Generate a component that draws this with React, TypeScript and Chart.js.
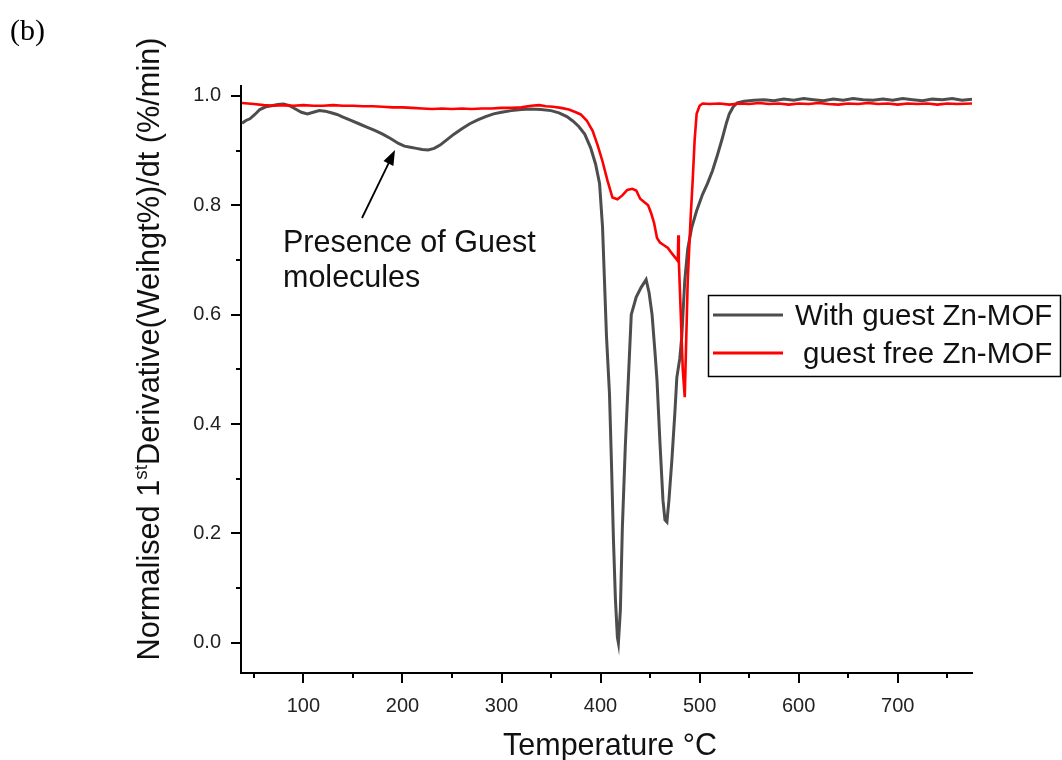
import React, { useEffect, useRef } from "react";
import { Chart, registerables } from "chart.js";

Chart.register(...registerables);

// ---- Data ----
const guestTemp = [
  38, 42, 46, 51, 56, 62, 68, 74, 80, 86, 92, 98, 104, 110, 116, 122, 128, 134, 140, 148,
  156, 164, 172, 180, 188, 196, 202, 208, 214, 220, 226, 232, 238, 245, 252, 260, 268, 276,
  284, 292, 300, 310, 320, 330, 340, 350, 358, 366, 372, 378, 384, 390, 395, 399, 402, 404,
  406, 409, 411, 413, 415, 417, 418, 420, 422, 425, 428, 431, 436, 441, 446, 449, 452, 455,
  457, 460, 463, 465, 467, 469, 472, 475, 477, 480, 482, 485, 488, 492, 497, 503, 508, 513,
  518, 523, 527, 530, 534, 538, 545, 555, 565, 575, 585, 595, 605, 615, 625, 635, 645, 655,
  665, 675, 685, 695, 705, 715, 725, 735, 745, 755, 765, 775,
];
const guestValue = [
  0.95, 0.955, 0.958, 0.966, 0.975, 0.98, 0.982, 0.984, 0.985, 0.982, 0.976, 0.97, 0.967,
  0.97, 0.973, 0.972, 0.969, 0.966, 0.961, 0.955, 0.949, 0.943, 0.937, 0.93, 0.922, 0.913,
  0.908, 0.906, 0.904, 0.902, 0.901, 0.904, 0.91, 0.92, 0.93, 0.94, 0.949, 0.956, 0.962,
  0.967, 0.97, 0.973, 0.975, 0.976, 0.975, 0.973, 0.969, 0.962, 0.954, 0.944, 0.93, 0.905,
  0.875, 0.84, 0.76, 0.66, 0.56, 0.456, 0.33, 0.19, 0.08, 0.01, 0.0, 0.06, 0.21, 0.36, 0.48,
  0.6, 0.632, 0.65, 0.664, 0.64, 0.6, 0.53, 0.48, 0.365, 0.261, 0.225, 0.221, 0.26, 0.334,
  0.42, 0.485, 0.52, 0.56, 0.662, 0.72, 0.759, 0.79, 0.82, 0.84, 0.863, 0.892, 0.923, 0.95,
  0.967, 0.98, 0.987, 0.99, 0.992, 0.993, 0.991, 0.994, 0.992, 0.995, 0.993, 0.991, 0.994,
  0.992, 0.995, 0.993, 0.992, 0.994, 0.992, 0.995, 0.993, 0.991, 0.994, 0.993, 0.995, 0.992,
  0.994,
];

const freeTemp = [
  38, 50, 60, 70, 80, 90, 100, 110, 120, 130, 140, 150, 160, 170, 180, 190, 200, 210, 220,
  230, 240, 250, 260, 270, 280, 290, 300, 310, 320, 330, 338, 345, 352, 360, 368, 375, 380,
  386, 392, 397, 402, 407, 412, 417, 422, 427, 432, 436, 440, 444, 448, 451, 454, 457, 460,
  464, 468, 472, 476, 478, 478.5, 479, 481, 483, 485, 486, 488, 491, 493, 495, 497, 500, 503,
  510, 520, 530, 540, 550, 560, 570, 580, 590, 600, 610, 620, 630, 640, 650, 660, 670, 680,
  690, 700, 710, 720, 730, 740, 750, 760, 775,
];
const freeValue = [
  0.987, 0.985, 0.983, 0.982, 0.983, 0.982, 0.983, 0.982, 0.982, 0.983, 0.982, 0.982, 0.981,
  0.981, 0.98, 0.979, 0.979, 0.978, 0.977, 0.976, 0.977, 0.976, 0.977, 0.976, 0.977, 0.977,
  0.978, 0.978, 0.979, 0.982, 0.983, 0.981, 0.98, 0.978, 0.975, 0.97, 0.966, 0.955, 0.936,
  0.91, 0.88, 0.845, 0.814, 0.811, 0.818, 0.828, 0.83, 0.827, 0.812, 0.806, 0.8, 0.786, 0.768,
  0.74, 0.732, 0.727, 0.722, 0.712, 0.703, 0.698, 0.745, 0.7, 0.6, 0.5, 0.449, 0.52, 0.662,
  0.78, 0.845, 0.92, 0.967, 0.982, 0.986, 0.985, 0.986, 0.984, 0.986, 0.985, 0.987, 0.985,
  0.986, 0.984, 0.986, 0.985, 0.987, 0.985, 0.984, 0.986, 0.985, 0.987, 0.985, 0.986, 0.984,
  0.986, 0.985, 0.986, 0.984, 0.986, 0.985, 0.986,
];

const seriesLabels = ["With guest Zn-MOF", "guest free Zn-MOF"];
const xMajorTicks = [100, 200, 300, 400, 500, 600, 700];
const xMinorTicks = [50, 150, 250, 350, 450, 550, 650, 750];
const yMajorTicks = [0, 0.2, 0.4, 0.6, 0.8, 1.0];
const yMinorTicks = [0.1, 0.3, 0.5, 0.7, 0.9];
const xTitle = "Temperature °C";
const yTitleParts = [
  { text: "Normalised 1", sup: false },
  { text: "st", sup: true },
  { text: "Derivative(Weihgt%)/dt (%/min)", sup: false },
];
const annotationLines = ["Presence of Guest", "molecules"];
const panelLabel = "(b)";

const SANS = '"Liberation Sans", Arial, Helvetica, sans-serif';
const SERIF = '"Liberation Serif", "Times New Roman", serif';
const GRAY = "#4d4d4d";
const RED = "#ff0000";

const decorPlugin = {
  id: "decor",
  afterDraw(chart: any) {
    const ctx: CanvasRenderingContext2D = chart.ctx;
    const xs = chart.scales.x;
    const ys = chart.scales.y;
    const ca = chart.chartArea;
    ctx.save();
    ctx.strokeStyle = "#000";
    ctx.lineWidth = 2;
    ctx.lineCap = "butt";
    const seg = (x1: number, y1: number, x2: number, y2: number) => {
      ctx.beginPath();
      ctx.moveTo(x1, y1);
      ctx.lineTo(x2, y2);
      ctx.stroke();
    };
    for (const v of xMajorTicks) {
      const px = Math.round(xs.getPixelForValue(v));
      seg(px, ca.bottom, px, ca.bottom + 10);
    }
    for (const v of xMinorTicks) {
      const px = Math.round(xs.getPixelForValue(v));
      seg(px, ca.bottom, px, ca.bottom + 5);
    }
    for (const v of yMajorTicks) {
      const py = Math.round(ys.getPixelForValue(v));
      seg(ca.left - 10, py, ca.left, py);
    }
    for (const v of yMinorTicks) {
      const py = Math.round(ys.getPixelForValue(v));
      seg(ca.left - 5, py, ca.left, py);
    }

    ctx.fillStyle = "#111";
    // x title
    ctx.font = `30.5px ${SANS}`;
    ctx.textAlign = "center";
    ctx.textBaseline = "alphabetic";
    ctx.fillText(xTitle, 610, 755);

    // y title with superscript
    ctx.save();
    ctx.translate(148, 349);
    ctx.rotate(-Math.PI / 2);
    const mainFont = `30.7px ${SANS}`;
    const supFont = `19px ${SANS}`;
    let total = 0;
    for (const p of yTitleParts) {
      ctx.font = p.sup ? supFont : mainFont;
      total += ctx.measureText(p.text).width;
    }
    let cx = -total / 2;
    ctx.textAlign = "left";
    for (const p of yTitleParts) {
      ctx.font = p.sup ? supFont : mainFont;
      ctx.fillText(p.text, cx, p.sup ? -1 : 11);
      cx += ctx.measureText(p.text).width;
    }
    ctx.restore();

    // legend
    ctx.fillStyle = "#fff";
    ctx.fillRect(708, 295, 353, 82);
    ctx.strokeStyle = "#000";
    ctx.lineWidth = 1.5;
    ctx.strokeRect(708.5, 295.5, 352, 81);
    ctx.lineWidth = 3;
    ctx.strokeStyle = GRAY;
    seg(713, 315, 783, 315);
    ctx.strokeStyle = RED;
    seg(713, 353, 783, 353);
    ctx.fillStyle = "#111";
    ctx.font = `29.5px ${SANS}`;
    ctx.textAlign = "left";
    ctx.textBaseline = "alphabetic";
    ctx.fillText(seriesLabels[0], 795, 325);
    ctx.fillText(seriesLabels[1], 803, 363);

    // annotation
    ctx.font = `30.5px ${SANS}`;
    ctx.fillText(annotationLines[0], 283, 252);
    ctx.fillText(annotationLines[1], 283, 287);
    // arrow
    const tx = 362, ty = 218, hx = 395, hy = 150;
    const ang = Math.atan2(hy - ty, hx - tx);
    const hl = 15, hw = 5.5;
    ctx.strokeStyle = "#000";
    ctx.lineWidth = 1.8;
    seg(tx, ty, hx - Math.cos(ang) * hl * 0.8, hy - Math.sin(ang) * hl * 0.8);
    ctx.fillStyle = "#000";
    ctx.beginPath();
    ctx.moveTo(hx, hy);
    ctx.lineTo(
      hx - Math.cos(ang) * hl - Math.sin(ang) * hw,
      hy - Math.sin(ang) * hl + Math.cos(ang) * hw
    );
    ctx.lineTo(
      hx - Math.cos(ang) * hl + Math.sin(ang) * hw,
      hy - Math.sin(ang) * hl - Math.cos(ang) * hw
    );
    ctx.closePath();
    ctx.fill();

    // panel label
    ctx.fillStyle = "#000";
    ctx.font = `30px ${SERIF}`;
    ctx.fillText(panelLabel, 10, 40);
    ctx.restore();
  },
};

export default function App() {
  const canvasRef = useRef<HTMLCanvasElement | null>(null);

  useEffect(() => {
    if (!canvasRef.current) return;
    const guestData = guestTemp.map((t, i) => ({ x: t, y: guestValue[i] }));
    const freeData = freeTemp.map((t, i) => ({ x: t, y: freeValue[i] }));
    const chart = new Chart(canvasRef.current, {
      type: "line",
      data: {
        datasets: [
          {
            label: seriesLabels[0],
            data: guestData,
            borderColor: GRAY,
            borderWidth: 3,
            pointRadius: 0,
            tension: 0,
            order: 1,
          },
          {
            label: seriesLabels[1],
            data: freeData,
            borderColor: RED,
            borderWidth: 2.6,
            pointRadius: 0,
            tension: 0,
            order: 0,
          },
        ],
      },
      options: {
        animation: false,
        responsive: false,
        maintainAspectRatio: false,
        layout: { padding: { left: 0, right: 90, top: 86, bottom: 0 } },
        plugins: {
          legend: { display: false },
          tooltip: { enabled: false },
          title: { display: false },
        },
        scales: {
          x: {
            type: "linear",
            min: 37,
            max: 775,
            grid: { display: false, drawTicks: false },
            border: { display: true, color: "#000", width: 2 },
            ticks: {
              padding: 21,
              color: "#222",
              font: { family: SANS, size: 20 },
              callback: (v: any) => String(v),
            },
            afterBuildTicks: (scale: any) => {
              scale.ticks = xMajorTicks.map((v) => ({ value: v }));
            },
            afterFit: (scale: any) => {
              scale.height = 87;
            },
          },
          y: {
            type: "linear",
            min: -0.055,
            max: 1.018,
            grid: { display: false, drawTicks: false },
            border: { display: true, color: "#000", width: 2 },
            ticks: {
              padding: 20,
              color: "#222",
              font: { family: SANS, size: 20 },
              callback: (v: any) => Number(v).toFixed(1),
            },
            afterBuildTicks: (scale: any) => {
              scale.ticks = yMajorTicks.map((v) => ({ value: v }));
            },
            afterFit: (scale: any) => {
              scale.width = 241;
            },
          },
        },
      },
      plugins: [decorPlugin],
    });
    return () => chart.destroy();
  }, []);

  return (
    <div
      style={{
        position: "fixed",
        left: 0,
        top: 0,
        width: 1062,
        height: 760,
        background: "#fff",
      }}
    >
      <canvas ref={canvasRef} width={1062} height={760} style={{ display: "block" }} />
    </div>
  );
}
